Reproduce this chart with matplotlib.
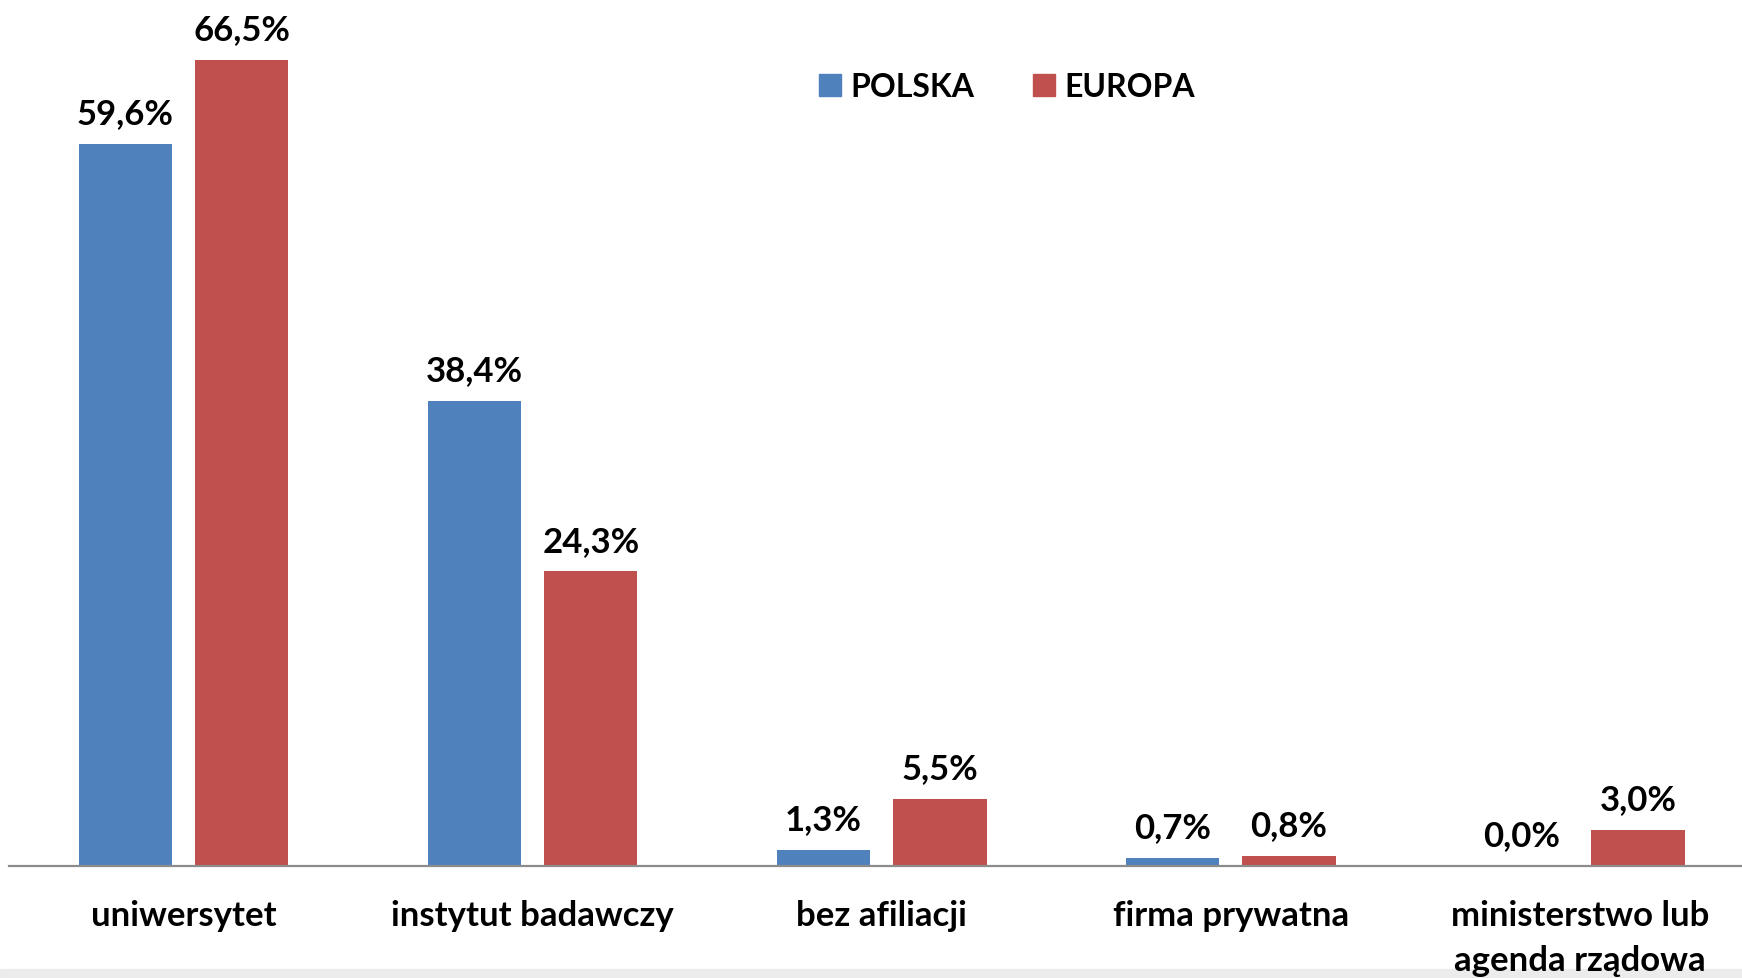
import numpy as np
import matplotlib.pyplot as plt
from matplotlib.patches import Patch, Rectangle

categories = ['uniwersytet', 'instytut badawczy', 'bez afiliacji',
              'firma prywatna', 'ministerstwo lub\nagenda rządowa']
polska = [59.6, 38.4, 1.3, 0.7, 0.0]
europa = [66.5, 24.3, 5.5, 0.8, 3.0]

BLUE = '#4F81BD'
RED = '#C0504D'

plt.rcParams['font.family'] = ['Lato', 'DejaVu Sans']

W, H = 1742, 979
fig = plt.figure(figsize=(W / 100, H / 100), dpi=100)
base_px = 867

# light grey strip along the bottom edge, behind everything
fig.patches.append(Rectangle((0, 0), 1, 9 / H, transform=fig.transFigure,
                             color='#ececec', zorder=-5))

ax = fig.add_axes([9 / W, (H - base_px) / H, 1 - 9 / W, base_px / H])
ax.patch.set_visible(False)

x = np.arange(len(categories))
w = 0.267
off = 0.167
ax.bar(x - off, polska, w, color=BLUE, label='POLSKA')
ax.bar(x + off, europa, w, color=RED, label='EUROPA')

def fmt(v):
    return f'{v:.1f}%'.replace('.', ',')

for xi, v in zip(x - off, polska):
    ax.annotate(fmt(v), xy=(xi, v), xytext=(0, 15), textcoords='offset points',
                ha='center', va='baseline', fontsize=25, fontweight='bold')
for xi, v in zip(x + off, europa):
    ax.annotate(fmt(v), xy=(xi, v), xytext=(0, 15), textcoords='offset points',
                ha='center', va='baseline', fontsize=25, fontweight='bold')

ax.set_xlim(-0.5, (W - 183.75) / 349)
ax.set_ylim(0, base_px / 12.12)
ax.set_xticks(x)
ax.set_xticklabels(categories, fontsize=25, fontweight='bold', linespacing=1.5)
ax.tick_params(axis='x', length=0, pad=24)
ax.set_yticks([])
for s in ['top', 'left', 'right']:
    ax.spines[s].set_visible(False)
ax.spines['bottom'].set_color('#8c8c8c')
ax.spines['bottom'].set_linewidth(1.6)

handles = [Patch(color=BLUE, label='POLSKA'), Patch(color=RED, label='EUROPA')]
fig.legend(handles=handles, loc='upper left', bbox_to_anchor=(819 / W, 1 - 73 / H),
           ncol=2, frameon=False, prop={'weight': 'bold', 'size': 23},
           handlelength=0.7, handleheight=0.7, handletextpad=0.27,
           columnspacing=1.85, borderpad=0, borderaxespad=0)

fig.savefig('out.png', dpi=100)
